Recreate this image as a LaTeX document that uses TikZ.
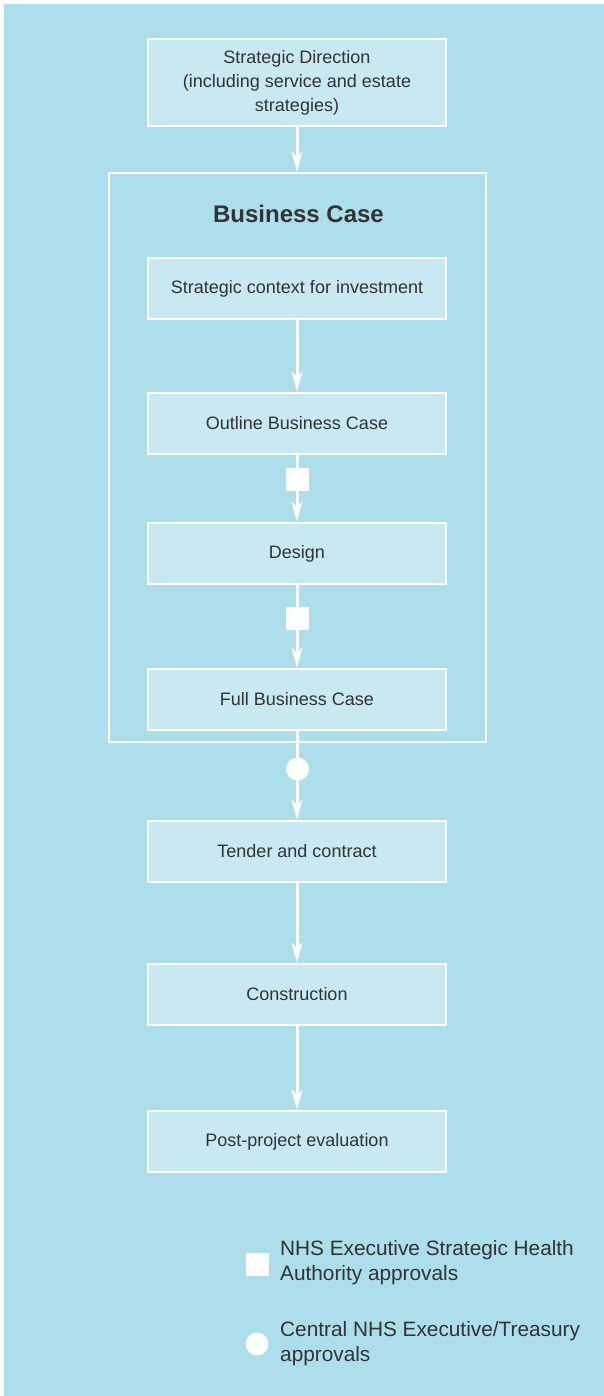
\documentclass[tikz,border=0pt]{standalone}
\usepackage{fontspec}
\setmainfont{Liberation Sans}
\usetikzlibrary{arrows.meta}
\definecolor{bgblue}{HTML}{ADDEEB}
\definecolor{boxblue}{HTML}{C8E8F2}
\definecolor{txt}{HTML}{333333}
\begin{document}
\begin{tikzpicture}[x=1pt,y=-1pt,
  stepbox/.style={draw=white,line width=2.5pt,fill=boxblue,minimum width=298pt,minimum height=61pt,
    text=txt,font=\fontsize{18}{24}\selectfont,align=center,inner sep=0pt},
  arr/.style={draw=white,line width=3pt,-{Stealth[length=20pt,width=11pt,inset=5pt]}},
  sqmark/.style={fill=white,minimum size=23pt,inner sep=0pt},
  cimark/.style={circle,fill=white,minimum size=23pt,inner sep=0pt},
  legtxt/.style={anchor=west,text=txt,font=\fontsize{20.8}{25}\selectfont,align=left,inner sep=0pt}]
\useasboundingbox (0,0) rectangle (604,1396);
\fill[white] (0,0) rectangle (604,1396);
\fill[bgblue] (4,4) rectangle (604,1396);
% outer business case frame
\node[draw=white,line width=2.5pt,minimum width=377pt,minimum height=569pt,inner sep=0pt] (bc) at (297.5,457.5) {};
\node[text=txt,font=\fontsize{24}{28}\selectfont\bfseries] (bct) at (298.5,214) {Business Case};
% boxes
\node[stepbox,minimum height=87pt] (sd) at (297,82.5) {Strategic Direction\\(including service and estate\\strategies)};
\node[stepbox] (sc) at (297,288.5) {Strategic context for investment};
\node[stepbox] (ob) at (297,423.5) {Outline Business Case};
\node[stepbox] (de) at (297,553.5) {Design};
\node[stepbox] (fb) at (297,699.5) {Full Business Case};
\node[stepbox] (tc) at (297,851.5) {Tender and contract};
\node[stepbox] (co) at (297,994.5) {Construction};
\node[stepbox] (pe) at (297,1141.5) {Post-project evaluation};
% connectors
\draw[arr] (sd.south) -- (sd.south |- bc.north);
\draw[arr] (sc.south) -- (ob.north);
\draw[arr] (ob.south) -- (de.north);
\draw[arr] (de.south) -- (fb.north);
\draw[arr] (fb.south) -- (tc.north);
\draw[arr] (tc.south) -- (co.north);
\draw[arr] (co.south) -- (pe.north);
% approval markers
\node[sqmark] (m1) at (297.5,479.5) {};
\node[sqmark] (m2) at (297.5,618.5) {};
\node[cimark] (m3) at (297.5,769) {};
% legend
\node[sqmark] (lsq) at (257.5,1264.5) {};
\node[legtxt] (lsqt) at (280,1263) {NHS Executive Strategic Health\\Authority approvals};
\node[cimark] (lci) at (257,1344) {};
\node[legtxt] (lcit) at (280,1344) {Central NHS Executive/Treasury\\approvals};
\end{tikzpicture}
\end{document}
